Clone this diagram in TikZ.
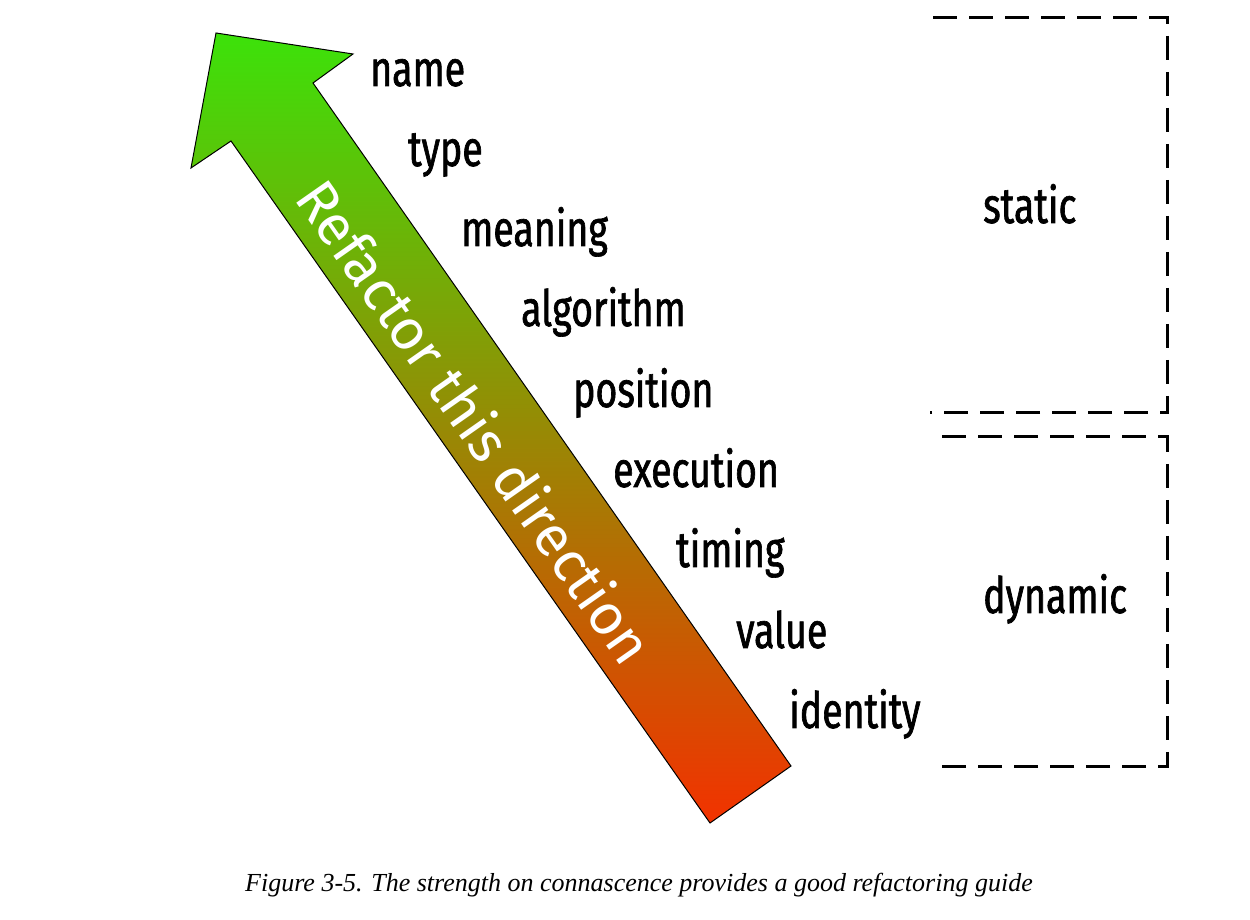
\documentclass[tikz,border=0pt]{standalone}
\usepackage{fontspec}
\setmainfont{Liberation Serif}
\newfontfamily\labelfont[FakeStretch=0.75,FakeBold=1.3]{Fira Sans}
\newfontfamily\arrowfont{Fira Sans}
\definecolor{arrowgreen}{HTML}{3CE20A}
\definecolor{arrowred}{HTML}{F23200}
\begin{document}
\begin{tikzpicture}[x=1pt,y=1pt,
  lbl/.style={anchor=base west,inner sep=0pt,font=\labelfont\fontsize{50}{50}\selectfont},
  grp/.style={anchor=base west,inner sep=0pt,font=\labelfont\fontsize{50}{50}\selectfont},
  bracket/.style={line width=3pt,dash pattern=on 24pt off 12pt},
  arrowtext/.style={text=white,inner sep=0pt,font=\arrowfont\fontsize{57}{57}\selectfont}]
\useasboundingbox (0,0) rectangle (1250,920);
% arrow
\shade[top color=arrowgreen,bottom color=arrowred,draw=black,line width=1pt,line join=miter]
  (216,887) -- (353,866) -- (313,837) -- (791,154) -- (710,97) -- (231,779) -- (191,752) -- cycle;
\node[arrowtext,rotate=-55] (arrowlabel) at (476,499) {Refactor this direction};
% labels
\node[lbl] (name) at (370,834) {name};
\node[lbl] (type) at (408,754) {type};
\node[lbl] (meaning) at (461,674) {meaning};
\node[lbl] (algorithm) at (521,594) {algorithm};
\node[lbl] (position) at (573,513) {position};
\node[lbl] (execution) at (613,433) {execution};
\node[lbl] (timing) at (676,353) {timing};
\node[lbl] (value) at (736,272) {value};
\node[lbl] (identity) at (789,192) {identity};
% groups
\coordinate (s1) at (933,902);
\coordinate (s2) at (1167,902);
\coordinate (s3) at (1167,507);
\coordinate (s4) at (930,507);
\draw[bracket] (s1) -- (s2) -- (s3) -- (s4);
\coordinate (d1) at (942,483);
\coordinate (d2) at (1167,483);
\coordinate (d3) at (1167,153);
\coordinate (d4) at (940,153);
\draw[bracket] (d1) -- (d2) -- (d3) -- (d4);
\node[grp] (static) at (983,697) {static};
\node[grp] (dynamic) at (983,307) {dynamic};
% caption
\node[anchor=base,inner sep=0pt,font=\itshape\fontsize{26}{26}\selectfont] (caption) at (639,28)
  {Figure 3-5. The strength on connascence provides a good refactoring guide};
\end{tikzpicture}
\end{document}
